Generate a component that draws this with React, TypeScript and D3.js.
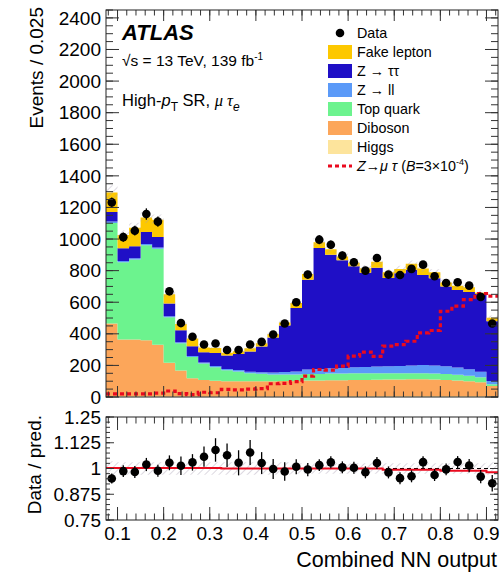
import React from "react";
import * as d3 from "d3";

// ---- data (34 bins, 0.075 .. 0.925, width 0.025) ----
const xLow = 0.075;
const binWidth = 0.025;
const higgs = [5, 4, 4, 4, 4, 3, 3, 3, 3, 3, 3, 3, 3, 3, 3, 3, 4, 4, 4, 4, 4, 4, 4, 4, 4, 4, 5, 5, 5, 5, 5, 5, 5, 4];
const diboson = [460, 360, 360, 356, 326, 214, 165, 115, 105, 100, 97, 97, 96, 96, 96, 98, 98, 100, 100, 102, 102, 104, 104, 105, 106, 106, 107, 108, 106, 103, 100, 95, 88, 65];
const topQuark = [636, 489, 506, 600, 609, 288, 173, 135, 104, 85, 70, 62, 52, 48, 44, 42, 40, 42, 42, 42, 42, 42, 42, 42, 40, 40, 38, 38, 38, 38, 36, 34, 32, 12];
const zll = [10, 8, 8, 8, 8, 6, 6, 6, 7, 8, 8, 9, 9, 10, 12, 15, 20, 28, 32, 34, 36, 38, 40, 42, 44, 46, 50, 52, 50, 48, 45, 42, 35, 20];
const ztautau = [60, 80, 76, 77, 66, 81, 76, 63, 65, 82, 85, 102, 128, 163, 222, 294, 402, 569, 765, 719, 681, 640, 596, 625, 560, 588, 606, 570, 553, 506, 492, 488, 492, 379];
const fake = [124, 84, 117, 91, 109, 59, 39, 48, 30, 33, 17, 17, 20, 20, 20, 20, 31, 36, 37, 35, 25, 22, 29, 39, 36, 26, 37, 40, 37, 25, 26, 31, 8, 21];
const dataCounts = [1232, 1012, 1053, 1158, 1110, 669, 468, 381, 332, 339, 298, 298, 332, 349, 396, 465, 600, 775, 996, 964, 895, 853, 800, 880, 775, 772, 811, 838, 764, 722, 726, 705, 634, 465];
const ratioErr = [0.024, 0.029, 0.029, 0.032, 0.029, 0.036, 0.045, 0.04, 0.049, 0.057, 0.057, 0.061, 0.061, 0.053, 0.049, 0.045, 0.036, 0.032, 0.029, 0.029, 0.029, 0.029, 0.029, 0.029, 0.029, 0.029, 0.029, 0.029, 0.029, 0.029, 0.029, 0.032, 0.032, 0.04];
const signal = [20, 20, 20, 20, 25, 38, 22, 15, 30, 27, 48, 45, 50, 53, 84, 86, 97, 132, 174, 170, 195, 259, 284, 257, 322, 332, 353, 406, 421, 543, 575, 617, 654, 638];
const systRel = [0.035, 0.03, 0.03, 0.03, 0.03, 0.03, 0.03, 0.03, 0.03, 0.03, 0.03, 0.03, 0.03, 0.03, 0.03, 0.03, 0.025, 0.025, 0.025, 0.025, 0.025, 0.025, 0.025, 0.025, 0.025, 0.025, 0.025, 0.025, 0.025, 0.025, 0.025, 0.025, 0.025, 0.03];
const ratioLine = [1.003, 1.003, 1.003, 1.003, 1.003, 1.003, 1.003, 1.003, 1.003, 1.003, 1.0, 1.0, 1.0, 1.0, 1.0, 1.0, 1.0, 1.0, 1.0, 1.0, 1.0, 1.0, 1.0, 1.0, 0.994, 0.994, 0.994, 0.994, 0.994, 0.989, 0.989, 0.989, 0.989, 0.982];

const yTicks = [0, 200, 400, 600, 800, 1000, 1200, 1400, 1600, 1800, 2000, 2200, 2400];
const xTicks = [0.1, 0.2, 0.3, 0.4, 0.5, 0.6, 0.7, 0.8, 0.9];
const xTickLabels = ["0.1", "0.2", "0.3", "0.4", "0.5", "0.6", "0.7", "0.8", "0.9"];
const rTicks = [0.75, 0.875, 1, 1.125, 1.25];
const rTickLabels = ["0.75", "0.875", "1", "1.125", "1.25"];

const layers = [
  { key: "higgs", values: higgs, color: "#fde49c", label: "Higgs" },
  { key: "diboson", values: diboson, color: "#fca65a", label: "Diboson" },
  { key: "top", values: topQuark, color: "#6cf38e", label: "Top quark" },
  { key: "zll", values: zll, color: "#5b9af8", label: "Z → ll" },
  { key: "ztt", values: ztautau, color: "#1f0fc6", label: "Z → ττ" },
  { key: "fake", values: fake, color: "#fdc800", label: "Fake lepton" },
];

const FONT = "'Liberation Sans', Arial, Helvetica, sans-serif";

export default function App() {
  const L = 106, R = 498, T = 10, B = 397;
  const RT = 417, RB = 520;
  const x = d3.scaleLinear().domain([0.075, 0.925]).range([L, R]);
  const y = d3.scaleLinear().domain([0, 2450]).range([B, T]);
  const yr = d3.scaleLinear().domain([0.75, 1.25]).range([RB, RT]);
  const n = dataCounts.length;
  const idx = d3.range(n);
  const lo = (i: number) => xLow + i * binWidth;
  const hi = (i: number) => xLow + (i + 1) * binWidth;
  const ctr = (i: number) => xLow + (i + 0.5) * binWidth;

  const series = d3.stack<number, string>()
    .keys(layers.map((l) => l.key))
    .value((i, key) => layers.find((l) => l.key === key)!.values[i])(idx);
  const total = idx.map((i) => series[series.length - 1][i][1]);

  type P = { xv: number; i: number };
  const pts: P[] = idx.flatMap((i) => [{ xv: lo(i), i }, { xv: hi(i), i }]);

  const stackArea = (k: number) =>
    d3.area<P>()
      .x((d) => x(d.xv))
      .y0((d) => y(series[k][d.i][0]))
      .y1((d) => y(series[k][d.i][1]))(pts) as string;

  const bandMain = d3.area<P>()
    .x((d) => x(d.xv))
    .y0((d) => y(total[d.i] * (1 - systRel[d.i])))
    .y1((d) => y(total[d.i] * (1 + systRel[d.i])))(pts) as string;

  const bandRatio = d3.area<P>()
    .x((d) => x(d.xv))
    .y0((d) => yr(1 - systRel[d.i]))
    .y1((d) => yr(1 + systRel[d.i]))(pts) as string;

  const sigLine = d3.line<P>().x((d) => x(d.xv)).y((d) => y(signal[d.i]))(pts) as string;
  const redRatio = d3.line<P>().x((d) => x(d.xv)).y((d) => yr(ratioLine[d.i]))(pts) as string;

  const ratio = idx.map((i) => dataCounts[i] / total[i]);

  const xMinor = d3.range(0.08, 0.925, 0.02);
  const yMinor = d3.range(0, 2451, 50);
  const rMinor = d3.range(0.75, 1.2501, 0.025);

  const tickStroke = "#333";

  const legendRows = [
    { type: "data", label: "Data" },
    { type: "box", color: "#fdc800", label: "Fake lepton" },
    { type: "box", color: "#1f0fc6", label: "ztt" },
    { type: "box", color: "#5b9af8", label: "zll" },
    { type: "box", color: "#6cf38e", label: "Top quark" },
    { type: "box", color: "#fca65a", label: "Diboson" },
    { type: "box", color: "#fde49c", label: "Higgs" },
    { type: "sig", label: "sig" },
  ];

  const legendLabel = (lab: string) => {
    if (lab === "ztt") return <>Z → ττ</>;
    if (lab === "zll") return <>Z → ll</>;
    if (lab === "sig")
      return (
        <>
          <tspan fontStyle="italic">Z</tspan>→<tspan fontStyle="italic">μ τ</tspan> (
          <tspan fontStyle="italic">B</tspan>=3×10
          <tspan dy={-6} fontSize={9}>-4</tspan>
          <tspan dy={6}>)</tspan>
        </>
      );
    return <>{lab}</>;
  };

  return (
    <svg width={500} height={574} style={{ position: "absolute", left: 0, top: 0, background: "#fff" }} fontFamily={FONT}>
      <defs>
        <pattern id="hatch" patternUnits="userSpaceOnUse" width={5} height={5} patternTransform="rotate(45)">
          <line x1={0} y1={0} x2={0} y2={5} stroke="#a79db2" strokeWidth={0.8} />
        </pattern>
        <clipPath id="mainClip"><rect x={L} y={T} width={R - L} height={B - T} /></clipPath>
        <clipPath id="ratioClip"><rect x={L} y={RT} width={R - L} height={RB - RT} /></clipPath>
      </defs>

      {/* ===== main panel ===== */}
      <g clipPath="url(#mainClip)">
        {layers.map((l, k) => (
          <path key={l.key} d={stackArea(k)} fill={l.color} stroke="none" />
        ))}
        <path d={bandMain} fill="url(#hatch)" stroke="none" />
        <path d={sigLine} fill="none" stroke="#ea0a1e" strokeWidth={3.2} strokeDasharray="4 3" />
        {idx.map((i) => (
          <g key={i}>
            <line x1={x(ctr(i))} x2={x(ctr(i))} y1={y(dataCounts[i] - ratioErr[i] * total[i])} y2={y(dataCounts[i] + ratioErr[i] * total[i])} stroke="#000" strokeWidth={1.3} />
            <circle cx={x(ctr(i))} cy={y(dataCounts[i])} r={4.3} fill="#000" />
          </g>
        ))}
      </g>
      {yTicks.map((t) => (
        <g key={"yt" + t}>
          <line x1={L} x2={L + 13} y1={y(t)} y2={y(t)} stroke={tickStroke} />
          <line x1={R} x2={R - 13} y1={y(t)} y2={y(t)} stroke={tickStroke} />
        </g>
      ))}
      {yMinor.map((t) => (
        <g key={"ym" + t}>
          <line x1={L} x2={L + 7} y1={y(t)} y2={y(t)} stroke={tickStroke} />
          <line x1={R} x2={R - 7} y1={y(t)} y2={y(t)} stroke={tickStroke} />
        </g>
      ))}
      {xTicks.map((t) => (
        <g key={"xt" + t}>
          <line x1={x(t)} x2={x(t)} y1={B} y2={B - 11} stroke={tickStroke} />
          <line x1={x(t)} x2={x(t)} y1={T} y2={T + 11} stroke={tickStroke} />
        </g>
      ))}
      {xMinor.map((t) => (
        <g key={"xm" + t}>
          <line x1={x(t)} x2={x(t)} y1={B} y2={B - 5.5} stroke={tickStroke} />
          <line x1={x(t)} x2={x(t)} y1={T} y2={T + 5.5} stroke={tickStroke} />
        </g>
      ))}
      <rect x={L} y={T} width={R - L} height={B - T} fill="none" stroke="#222" strokeWidth={1} />
      {yTicks.map((t) => (
        <text key={"yl" + t} x={L - 5} y={y(t)} dy="0.35em" textAnchor="end" fontSize={19}>{t}</text>
      ))}
      <text transform={`translate(43,7) rotate(-90)`} textAnchor="end" fontSize={19}>Events / 0.025</text>

      <text x={122} y={40} fontSize={22} fontWeight="bold" fontStyle="italic">ATLAS</text>
      <text x={122} y={66} fontSize={15.5}>
        √s = 13 TeV, 139 fb<tspan dy={-6} fontSize={10}>-1</tspan>
      </text>
      <text x={122} y={106} fontSize={16.5}>
        High-<tspan fontStyle="italic">p</tspan>
        <tspan dy={5} fontSize={12}>T</tspan>
        <tspan dy={-5}> SR, </tspan>
        <tspan fontStyle="italic" fontFamily="'Liberation Serif', serif">μ τ</tspan>
        <tspan dy={5} fontSize={12} fontStyle="italic">e</tspan>
      </text>

      {legendRows.map((r, k) => {
        const cy = 33 + k * 19;
        return (
          <g key={"lg" + k}>
            {r.type === "data" && <circle cx={340} cy={cy} r={4.3} fill="#000" />}
            {r.type === "box" && <rect x={328} y={cy - 7} width={24} height={14} fill={r.color} />}
            {r.type === "sig" && <line x1={328} x2={352} y1={cy} y2={cy} stroke="#ea0a1e" strokeWidth={3.2} strokeDasharray="4 3" />}
            <text x={357} y={cy + 5} fontSize={14.3}>{legendLabel(r.label)}</text>
          </g>
        );
      })}

      {/* ===== ratio panel ===== */}
      <g clipPath="url(#ratioClip)">
        <path d={bandRatio} fill="url(#hatch)" stroke="none" />
        <line x1={L} x2={R} y1={yr(1)} y2={yr(1)} stroke="#000" strokeWidth={1} strokeDasharray="4 3" />
        <path d={redRatio} fill="none" stroke="#ea0a1e" strokeWidth={2} />
        {idx.map((i) => (
          <g key={"r" + i}>
            <line x1={x(ctr(i))} x2={x(ctr(i))} y1={yr(ratio[i] - ratioErr[i])} y2={yr(ratio[i] + ratioErr[i])} stroke="#000" strokeWidth={1.3} />
            <circle cx={x(ctr(i))} cy={yr(ratio[i])} r={4.3} fill="#000" />
          </g>
        ))}
      </g>
      {rTicks.map((t) => (
        <g key={"rt" + t}>
          <line x1={L} x2={L + 8} y1={yr(t)} y2={yr(t)} stroke={tickStroke} />
          <line x1={R} x2={R - 8} y1={yr(t)} y2={yr(t)} stroke={tickStroke} />
        </g>
      ))}
      {rMinor.map((t) => (
        <g key={"rm" + t}>
          <line x1={L} x2={L + 4} y1={yr(t)} y2={yr(t)} stroke={tickStroke} />
          <line x1={R} x2={R - 4} y1={yr(t)} y2={yr(t)} stroke={tickStroke} />
        </g>
      ))}
      {xTicks.map((t) => (
        <g key={"rxt" + t}>
          <line x1={x(t)} x2={x(t)} y1={RB} y2={RB - 13} stroke={tickStroke} />
          <line x1={x(t)} x2={x(t)} y1={RT} y2={RT + 13} stroke={tickStroke} />
        </g>
      ))}
      {xMinor.map((t) => (
        <g key={"rxm" + t}>
          <line x1={x(t)} x2={x(t)} y1={RB} y2={RB - 6.5} stroke={tickStroke} />
          <line x1={x(t)} x2={x(t)} y1={RT} y2={RT + 6.5} stroke={tickStroke} />
        </g>
      ))}
      <rect x={L} y={RT} width={R - L} height={RB - RT} fill="none" stroke="#222" strokeWidth={1} />
      {rTicks.map((t, k) => (
        <text key={"rl" + t} x={L - 5} y={yr(t)} dy="0.35em" textAnchor="end" fontSize={19}>{rTickLabels[k]}</text>
      ))}
      {xTicks.map((t, k) => (
        <text key={"xl" + t} x={x(t)} y={540} textAnchor="middle" fontSize={19}>{xTickLabels[k]}</text>
      ))}
      <text transform={`translate(41,415) rotate(-90)`} textAnchor="end" fontSize={19}>Data / pred.</text>
      <text x={497} y={567} textAnchor="end" fontSize={21.5}>Combined NN output</text>
    </svg>
  );
}
